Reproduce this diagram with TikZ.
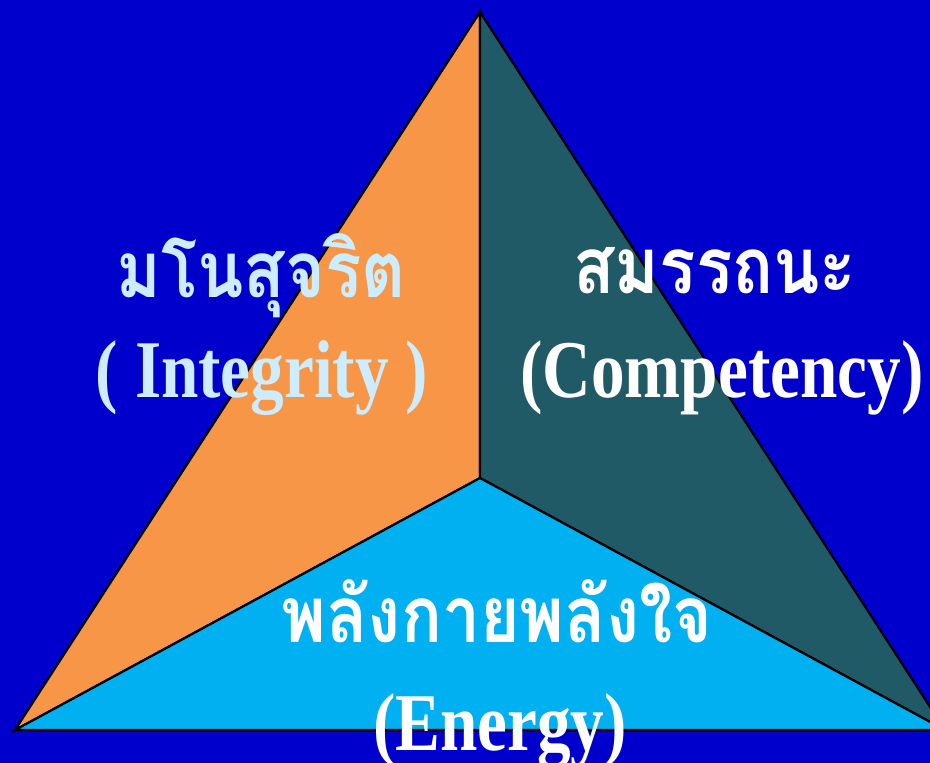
\documentclass[tikz,border=0pt]{standalone}
\usepackage{fontspec}
\setmainfont{Liberation Serif}
\newfontfamily\thaifont[Script=Thai]{Loma}
\definecolor{bgblue}{HTML}{0000CC}
\definecolor{orangeA}{HTML}{F79646}
\definecolor{tealA}{HTML}{215A67}
\definecolor{cyanA}{HTML}{00B0F0}
\definecolor{lightA}{HTML}{CCECFF}
\tikzset{
  face/.style={draw=black, line width=2.2pt, line join=miter},
  thai/.style={anchor=base, inner sep=0pt, xscale=0.87, font=\thaifont\bfseries\fontsize{78}{90}\selectfont},
  eng/.style={anchor=base, inner sep=0pt, xscale=0.82, font=\bfseries\fontsize{82}{90}\selectfont},
}
\begin{document}
\begin{tikzpicture}[x=1pt,y=-1pt]
\useasboundingbox (0,0) rectangle (930,763);
\fill[bgblue] (0,0) rectangle (930,763);
\begin{scope}
\clip (0,0) rectangle (930,763);
\coordinate (A) at (480,12);
\coordinate (L) at (15,730);
\coordinate (R) at (945,730);
\coordinate (C) at (480,478);
\filldraw[face, fill=orangeA] (A) -- (C) -- (L) -- cycle;
\filldraw[face, fill=tealA] (A) -- (R) -- (C) -- cycle;
\filldraw[face, fill=cyanA] (L) -- (C) -- (R) -- cycle;
\end{scope}
\node[thai, text=lightA] (t1) at (261,297) {มโนสุจริต};
\node[eng, text=lightA] (e1) at (262,397) {( Integrity )};
\node[thai, text=white] (t2) at (715,293) {สมรรถนะ};
\node[eng, text=white] (e2) at (722,397) {(Competency)};
\node[thai, text=white] (t3) at (497,642) {พลังกายพลังใจ};
\node[eng, text=white] (e3) at (500,750) {(Energy)};
\end{tikzpicture}
\end{document}
